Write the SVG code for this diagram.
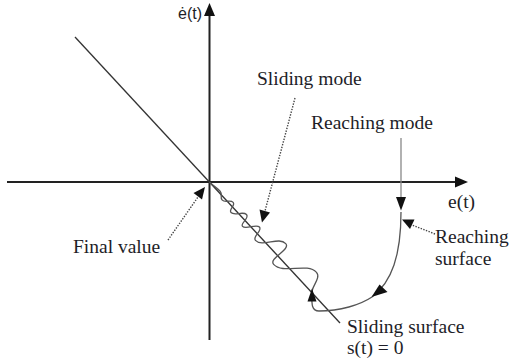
<svg xmlns="http://www.w3.org/2000/svg" width="511" height="364" viewBox="0 0 511 364">
  <style>
    .lbl { font-family: "Liberation Serif", "Times New Roman", serif; font-size: 19.5px; fill: #1e1e28; }
    .axis { stroke: #222; stroke-width: 2; fill: none; }
    .dot { stroke: #444; stroke-width: 1.4; stroke-dasharray: 1.4 1.4; fill: none; }
    .traj { stroke: #555; stroke-width: 1.3; fill: none; }
    .head { fill: #111; stroke: none; }
  </style>
  <rect width="511" height="364" fill="#fff"/>
  <g id="axes">
    <line class="axis" x1="7" y1="182" x2="458" y2="182"/>
    <polygon class="head" points="468,182 455,176.5 455,187.5"/>
    <line class="axis" x1="209.5" y1="340" x2="209.5" y2="14"/>
    <polygon class="head" points="209.5,3 204,16 215,16"/>
    <text id="edot-label" x="202" y="19" text-anchor="end" style="font-family:'Liberation Sans',Arial,sans-serif;font-size:16px;fill:#1e1e28">ė(t)</text>
    <text id="e-label" class="lbl" x="448" y="208">e(t)</text>
  </g>
  <g id="sliding-surface">
    <line x1="75" y1="37" x2="340" y2="323" stroke="#333" stroke-width="1.3"/>
    <text class="lbl" x="347" y="333">Sliding surface</text>
    <text class="lbl" x="347" y="354">s(t) = 0</text>
  </g>
  <g id="connectors">
    <g id="sliding-wave" transform="translate(209.5,182) rotate(47.15)">
      <path class="traj" d="M0,0 C5,0 9,-1.5 14,-1.5 C18,-1.5 18,3 22,3 C26,3 27,-3.5 31,-3.5 C35,-3.5 33,5 37,5 C42,5 44,-5 49,-5 C54,-5 51,6 55,6 C60,6 62,-6 67,-6 C72,-6 69,6 74,6 C84,6 87,-14 97,-14 C105,-14 96,9 104,9 C118,9 125,-17 139,-17 C146,-17 146.1,-4.1 150.5,0"/>
    </g>
    <path id="reaching-path" class="traj" d="M311.8,292.3 C311.8,303 311,311 319,311 C340,311 360,305 372,297 C392,282 401,255 401,212"/>
    <polygon class="head" points="312,288.5 307.5,301.5 316.5,301.5"/>
    <polygon class="head" points="371.5,297 379.5,284.5 387.5,292"/>
    <line x1="401" y1="138" x2="401" y2="200" stroke="#888" stroke-width="1.3"/>
    <polygon class="head" points="401,210.5 396,197 406,197"/>
    <line class="dot" x1="295" y1="98" x2="265" y2="211"/>
    <polygon class="head" points="262,222.5 259.5,209.5 270,212.5"/>
    <line class="dot" x1="168" y1="240" x2="198" y2="197"/>
    <polygon class="head" points="205,187 193.5,193 202,199.5"/>
    <line class="dot" x1="435" y1="234" x2="412" y2="225"/>
    <polygon class="head" points="402,219.5 414.5,219.5 410,229"/>
  </g>
  <g id="label-sliding-mode"><text class="lbl" x="257" y="85">Sliding mode</text></g>
  <g id="label-reaching-mode"><text class="lbl" x="311" y="129">Reaching mode</text></g>
  <g id="label-final-value"><text class="lbl" x="73" y="253">Final value</text></g>
  <g id="label-reaching-surface">
    <text class="lbl" x="435" y="243">Reaching</text>
    <text class="lbl" x="435" y="265">surface</text>
  </g>
</svg>
